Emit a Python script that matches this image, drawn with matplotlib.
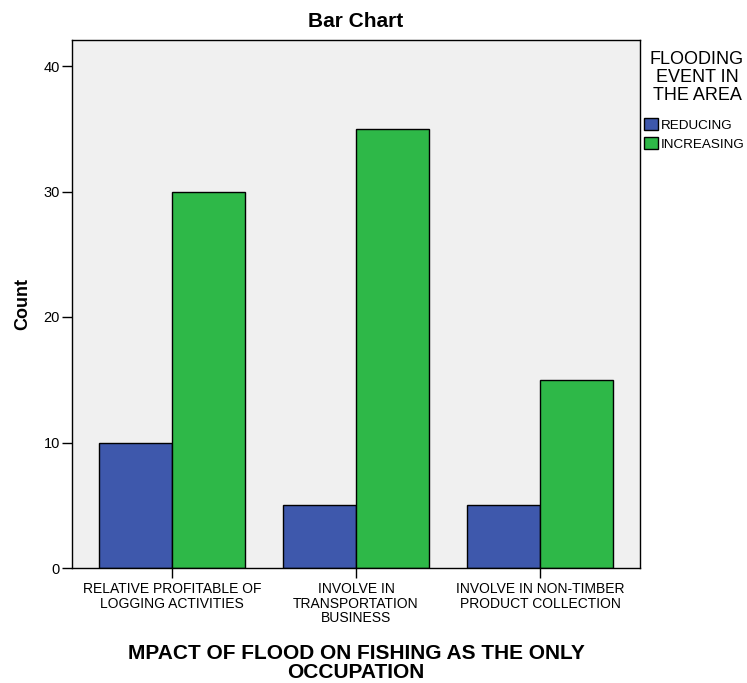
import matplotlib
matplotlib.use("Agg")
import matplotlib.pyplot as plt
import numpy as np
from matplotlib.patches import Patch

categories = ["RELATIVE PROFITABLE OF\nLOGGING ACTIVITIES",
              "INVOLVE IN\nTRANSPORTATION\nBUSINESS",
              "INVOLVE IN NON-TIMBER\nPRODUCT COLLECTION"]
series_names = ["REDUCING", "INCREASING"]
reducing = [10, 5, 5]
increasing = [30, 35, 15]
yticks = [0, 10, 20, 30, 40]

colors = ["#3e58ac", "#2eb848"]
plt.rcParams['font.family'] = ['Liberation Sans', 'DejaVu Sans']

fig = plt.figure(figsize=(7.47, 6.83), dpi=100)
ax = fig.add_axes([72/747, 1-568/683, (640-72)/747, (568-40)/683])
ax.set_facecolor("#f0f0f0")

x = np.arange(len(categories))
w = 73/184
ax.bar(x - w/2, reducing, width=w, color=colors[0], edgecolor="black", linewidth=1)
ax.bar(x + w/2, increasing, width=w, color=colors[1], edgecolor="black", linewidth=1)

ax.set_xlim(-100/184, 2 + 100/184)
ax.set_ylim(0, 528/12.55)
ax.set_yticks(yticks)
ax.set_yticklabels([str(v) for v in yticks], fontsize=10.5)
ax.set_xticks(x)
ax.set_xticklabels(categories, fontsize=10, linespacing=1.05)
ax.tick_params(axis='both', direction='out', length=7.2, width=1, color='black')
ax.tick_params(axis='x', pad=3)
ax.tick_params(axis='y', pad=1.5)
for s in ax.spines.values():
    s.set_color('black')
    s.set_linewidth(1)

ax.set_ylabel("Count", fontsize=13, fontweight='bold', labelpad=8.5)
ax.set_xlabel("MPACT OF FLOOD ON FISHING AS THE ONLY\nOCCUPATION", fontsize=15,
              fontweight='bold', labelpad=13.5, linespacing=1.0)
ax.set_title("Bar Chart", fontsize=15, fontweight='bold', pad=9.5)

fig.text(697/747, 1-51/683, "FLOODING\nEVENT IN\nTHE AREA", ha='center', va='top',
         fontsize=13, linespacing=1.09, multialignment='center')

handles = [Patch(facecolor=colors[i], edgecolor='black', label=series_names[i]) for i in range(2)]
leg = fig.legend(handles=handles, loc='upper left', bbox_to_anchor=(643/747, 1-117/683),
                 frameon=False, fontsize=9.7, handlelength=1.0, handleheight=1.0,
                 handletextpad=0.25, borderaxespad=0, borderpad=0.1, labelspacing=0.37)

fig.savefig("out.png", dpi=100)
